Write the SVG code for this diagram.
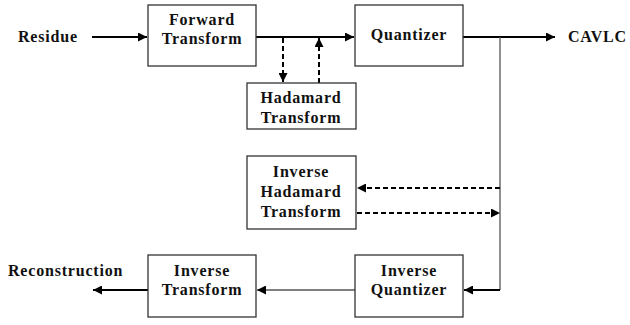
<svg xmlns="http://www.w3.org/2000/svg" width="630" height="325" viewBox="0 0 630 325">
  <style>
    .box { fill: #ffffff; stroke: #333333; stroke-width: 1.3; }
    .lbl { font-family: "Liberation Serif", "Times New Roman", serif; font-weight: bold; font-size: 16px; fill: #111111; letter-spacing: 0.8px; text-anchor: middle; }
    .tag { font-family: "Liberation Serif", "Times New Roman", serif; font-weight: bold; font-size: 16px; fill: #111111; letter-spacing: 0.8px; }
    .thick { stroke: #000000; stroke-width: 2; fill: none; }
    .thin { stroke: #555555; stroke-width: 1.3; fill: none; }
    .dash { stroke: #000000; stroke-width: 2; stroke-dasharray: 5 3; fill: none; }
  </style>
  <defs>
    <marker id="head" viewBox="0 0 10 10" refX="10" refY="5" markerWidth="6" markerHeight="6" markerUnits="userSpaceOnUse" orient="auto">
      <path d="M0,0 L10,5 L0,10 z" fill="#000000"/>
    </marker>
    <marker id="headBig" viewBox="0 0 10 10" refX="10" refY="5" markerWidth="9" markerHeight="9" markerUnits="userSpaceOnUse" orient="auto">
      <path d="M0,0 L10,5 L0,10 z" fill="#000000"/>
    </marker>
  </defs>
  <rect width="630" height="325" fill="#ffffff"/>

  <g id="connectors">
    <line class="thick" x1="92" y1="37" x2="147" y2="37" marker-end="url(#headBig)"/>
    <line class="thick" x1="256" y1="37" x2="354" y2="37" marker-end="url(#headBig)"/>
    <line class="dash" x1="283" y1="38" x2="283" y2="82" marker-end="url(#headBig)"/>
    <line class="dash" x1="319" y1="83" x2="319" y2="38" marker-end="url(#headBig)"/>
    <line class="thick" x1="463" y1="37" x2="555" y2="37" marker-end="url(#headBig)"/>
    <polyline class="thin" points="500,37 500,290"/>
    <line class="dash" x1="500" y1="188" x2="357" y2="188" marker-end="url(#headBig)"/>
    <line class="dash" x1="357" y1="213" x2="500" y2="213" marker-end="url(#headBig)"/>
    <line class="thick" x1="500" y1="290" x2="464" y2="290" marker-end="url(#headBig)"/>
    <line class="thin" x1="355" y1="290" x2="257" y2="290" marker-end="url(#headBig)"/>
    <line class="thick" x1="148" y1="290" x2="93" y2="290" stroke-width="2.5" marker-end="url(#headBig)"/>
  </g>

  <g id="residue"><text class="tag" x="18" y="42">Residue</text></g>
  <g id="cavlc"><text class="tag" x="568" y="42">CAVLC</text></g>
  <g id="reconstruction"><text class="tag" x="8" y="276">Reconstruction</text></g>

  <g id="forward-transform">
    <rect class="box" x="148" y="5" width="108" height="61"/>
    <text class="lbl" x="202" y="25">Forward</text>
    <text class="lbl" x="202" y="44">Transform</text>
  </g>

  <g id="hadamard-transform">
    <rect class="box" x="247" y="83" width="109" height="46"/>
    <text class="lbl" x="301" y="103">Hadamard</text>
    <text class="lbl" x="301" y="123">Transform</text>
  </g>

  <g id="quantizer">
    <rect class="box" x="355" y="5" width="108" height="61"/>
    <text class="lbl" x="409" y="40">Quantizer</text>
  </g>

  <g id="inverse-hadamard-transform">
    <rect class="box" x="247" y="156" width="109" height="73"/>
    <text class="lbl" x="301" y="177">Inverse</text>
    <text class="lbl" x="301" y="197">Hadamard</text>
    <text class="lbl" x="301" y="217">Transform</text>
  </g>

  <g id="inverse-quantizer">
    <rect class="box" x="355" y="255" width="108" height="62"/>
    <text class="lbl" x="409" y="276">Inverse</text>
    <text class="lbl" x="409" y="295">Quantizer</text>
  </g>

  <g id="inverse-transform">
    <rect class="box" x="148" y="255" width="108" height="62"/>
    <text class="lbl" x="202" y="276">Inverse</text>
    <text class="lbl" x="202" y="295">Transform</text>
  </g>
</svg>
